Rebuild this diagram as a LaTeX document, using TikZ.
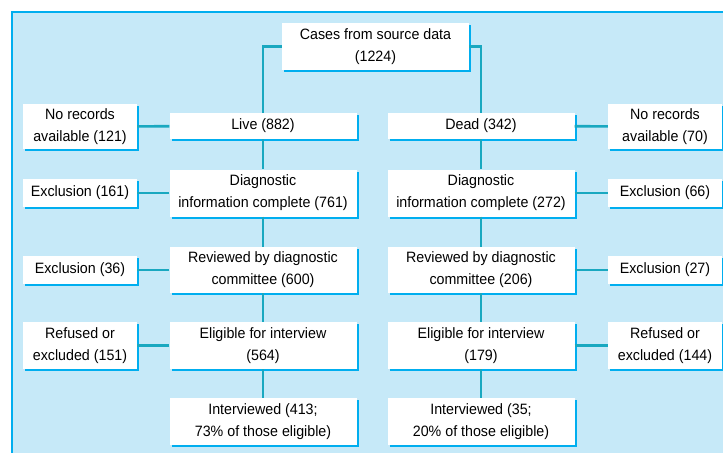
\documentclass[tikz,border=0pt]{standalone}
\usepackage{fontspec}
\setmainfont[FakeStretch=0.95]{Liberation Sans}
\usetikzlibrary{shadows}
\definecolor{panelblue}{HTML}{C6E9F8}
\definecolor{edgecyan}{HTML}{00AEEF}
\definecolor{linkteal}{HTML}{19A8C0}

\begin{document}
\begin{tikzpicture}[x=1pt, y=-1pt,
mainbox/.style={rectangle, fill=white, minimum width=187pt, inner sep=1pt, align=center,
  font=\fontsize{15}{22}\selectfont,
  drop shadow={shadow xshift=2pt, shadow yshift=-2pt, fill=edgecyan, opacity=1}},
sidebox/.style={mainbox, minimum width=114pt},
link/.style={draw=linkteal, line width=2.6pt}
]
    \useasboundingbox (0,0) rectangle (723,453);
    \fill [panelblue] (12,12) rectangle (723,453);
    \draw [edgecyan, line width=1.5pt] (723,12) -- (12,12) -- (12,453);

    \node [mainbox, minimum height=47pt] (src) at (375.5,46.5) {Cases from source data\\(1224)};

    \node [mainbox, minimum height=26pt] (live) at (263,126) {Live (882)};
    \node [mainbox, minimum height=26pt] (dead) at (481,126) {Dead (342)};
    \node [sidebox, minimum height=45pt] (norecL) at (80,126.5) {No records\\available (121)};
    \node [sidebox, minimum height=45pt] (norecR) at (665,126.5) {No records\\available (70)};

    \node [mainbox, minimum height=47pt] (diagL) at (263,193) {Diagnostic\\information complete (761)};
    \node [mainbox, minimum height=47pt] (diagR) at (481,193) {Diagnostic\\information complete (272)};
    \node [sidebox, minimum height=28pt] (exclL) at (80,193) {Exclusion (161)};
    \node [sidebox, minimum height=28pt] (exclR) at (665,193) {Exclusion (66)};

    \node [mainbox, minimum height=46pt] (revL) at (263,270) {Reviewed by diagnostic\\committee (600)};
    \node [mainbox, minimum height=46pt] (revR) at (481,270) {Reviewed by diagnostic\\committee (206)};
    \node [sidebox, minimum height=28pt] (excl2L) at (80,270) {Exclusion (36)};
    \node [sidebox, minimum height=28pt] (excl2R) at (665,270) {Exclusion (27)};

    \node [mainbox, minimum height=47pt] (eligL) at (263,345.5) {Eligible for interview\\(564)};
    \node [mainbox, minimum height=47pt] (eligR) at (481,345.5) {Eligible for interview\\(179)};
    \node [sidebox, minimum height=47pt] (refL) at (80,345.5) {Refused or\\excluded (151)};
    \node [sidebox, minimum height=47pt] (refR) at (665,345.5) {Refused or\\excluded (144)};

    \node [mainbox, minimum height=47pt] (intL) at (263,421.5) {Interviewed (413;\\73\% of those eligible)};
    \node [mainbox, minimum height=47pt] (intR) at (481,421.5) {Interviewed (35;\\20\% of those eligible)};

    \draw [link] (src.west) -| (live.north);
    \draw [link] (src.east) -| (dead.north);
    \draw [link] (live) edge (norecL);
    \draw [link] (dead) edge (norecR);
    \draw [link] (live) edge (diagL);
    \draw [link] (dead) edge (diagR);
    \draw [link] (diagL) edge (exclL);
    \draw [link] (diagR) edge (exclR);
    \draw [link] (diagL) edge (revL);
    \draw [link] (diagR) edge (revR);
    \draw [link] (revL) edge (excl2L);
    \draw [link] (revR) edge (excl2R);
    \draw [link] (revL) edge (eligL);
    \draw [link] (revR) edge (eligR);
    \draw [link] (eligL) edge (refL);
    \draw [link] (eligR) edge (refR);
    \draw [link] (eligL) edge (intL);
    \draw [link] (eligR) edge (intR);
\end{tikzpicture}
\end{document}
